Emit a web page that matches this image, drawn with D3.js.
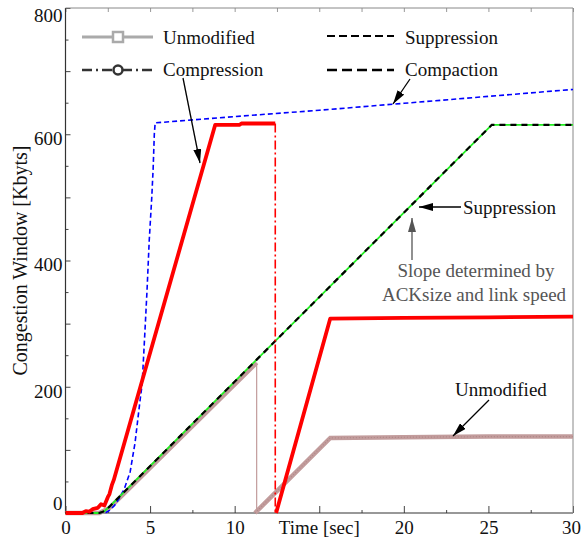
<!DOCTYPE html>
<html><head><meta charset="utf-8">
<script src="https://cdn.jsdelivr.net/npm/d3@7"></script>
<style>
body{margin:0;background:#fff;}
text{font-family:"Liberation Serif","Times New Roman",serif;}
</style></head>
<body><svg id="c" width="581" height="539"></svg>
<script>
// ---------- data ----------
const xMajorTicks = [0, 5, 10, 15, 20, 25, 30];
const xTickLabels = ["0", "5", "10", "", "20", "25", "30"];
const xMinorTicks = [2.5, 7.5, 12.5, 17.5, 22.5, 27.5];
const yMajorTicks = [0, 100, 200, 300, 400, 500, 600, 700, 800];
const yMinorTicks = [50, 150, 250, 350, 450, 550, 650, 750];
const yTickLabels = ["0", "", "200", "", "400", "", "600", "", "800"];

// blue dashed series
const blueT = [0, 1.5, 2.4, 2.6, 2.9, 3.22, 3.5, 3.82, 4.11, 4.29, 4.41, 4.53, 4.7, 4.82, 4.95, 5.1, 5.18, 5.25, 5.3, 10, 15, 20, 25, 30];
const blueV = [0, 0, 1, 4, 12, 25, 40, 65, 111, 152, 179, 204, 290, 353, 432, 500, 545, 600, 618, 628, 638, 649, 660, 671];

// green + black dashed series (Suppression / Compaction)
const lineT = [0, 2.0, 2.3, 2.6, 25.2, 30];
const lineV = [0, 0, 3, 10, 615, 615];

// pink (Unmodified) series: first ramp, drop, second ramp
const unmod1T = [0, 2.0, 2.6, 11.3];
const unmod1V = [0, 0, 8, 238];
const unmodDropT = [11.3, 11.3];
const unmodDropV = [238, 0];
const unmod2T = [11.2, 15.65, 20, 25, 30];
const unmod2V = [0, 119, 120, 121, 121];

// red (Compression) series: ramp + flat, drop, second ramp
const red1T = [0, 1.0, 1.2, 1.4, 1.6, 1.9, 2.1, 2.3, 2.5, 2.6, 2.75, 2.85, 8.85, 10.3, 10.4, 12.4];
const red1V = [0, 0, 3, 2, 6, 8, 14, 12, 25, 30, 45, 52, 615, 615, 617, 617];
const redDropT = [12.4, 12.4];
const redDropV = [617, 0];
const red2T = [12.45, 15.65, 20, 25, 30];
const red2V = [0, 308, 309, 310, 311];

// legend
const legendNames = ["Unmodified", "Compression", "Suppression", "Compaction"];

// ---------- chart ----------
const svg = d3.select("#c");
const L = 65.5, R = 573, T = 8, B = 513;
const x = d3.scaleLinear().domain([0, 30]).range([L, R]);
const y = d3.scaleLinear().domain([0, 800]).range([B, T]);
const FS = 19;
const zip = (ts, vs) => ts.map((t, i) => [t, vs[i]]);
const line = d3.line().x(d => x(d[0])).y(d => y(d[1]));

// axes
const styleAxis = g => { g.select(".domain").remove(); g.selectAll("line").attr("stroke", "#444"); g.selectAll("text").attr("font-family", '"Liberation Serif","Times New Roman",serif').attr("font-size", FS).attr("fill", "#111"); };

const xb = svg.append("g").attr("transform", `translate(0,${B})`)
  .call(d3.axisBottom(x).tickValues(xMajorTicks).tickSize(-7).tickPadding(8).tickFormat((d, i) => xTickLabels[i]));
styleAxis(xb);
xb.selectAll(".tick").filter(d => d === 30).select("text").attr("text-anchor", "end").attr("x", 7.5);
const xbm = svg.append("g").attr("transform", `translate(0,${B})`)
  .call(d3.axisBottom(x).tickValues(xMinorTicks).tickSize(-3).tickFormat(""));
styleAxis(xbm);
const xt = svg.append("g").attr("transform", `translate(0,${T})`)
  .call(d3.axisTop(x).tickValues(xMajorTicks.concat(xMinorTicks)).tickSize(-4).tickFormat(""));
styleAxis(xt); xt.selectAll("line").attr("stroke", "#999");

const yl = svg.append("g").attr("transform", `translate(${L},0)`)
  .call(d3.axisLeft(y).tickValues(yMajorTicks).tickSize(-5).tickPadding(3).tickFormat((d, i) => yTickLabels[i]));
styleAxis(yl);
yl.selectAll("text").attr("dy", "0.55em");
yl.selectAll(".tick").filter(d => d === 800).select("text").attr("dy", "0.72em");
yl.selectAll(".tick").filter(d => d === 0).select("text").attr("dy", "-0.2em");
const ylm = svg.append("g").attr("transform", `translate(${L},0)`)
  .call(d3.axisLeft(y).tickValues(yMinorTicks).tickSize(-3).tickFormat(""));
styleAxis(ylm);

// frame
svg.append("line").attr("x1", L).attr("x2", L).attr("y1", T).attr("y2", B).attr("stroke", "#333").attr("stroke-width", 1.2);
svg.append("line").attr("x1", L).attr("x2", R).attr("y1", B).attr("y2", B).attr("stroke", "#333").attr("stroke-width", 1.2);
svg.append("line").attr("x1", L).attr("x2", R).attr("y1", T).attr("y2", T).attr("stroke", "#888").attr("stroke-width", 1);
svg.append("line").attr("x1", R).attr("x2", R).attr("y1", T).attr("y2", B).attr("stroke", "#888").attr("stroke-width", 1);

// axis titles
svg.append("text").attr("x", x(15)).attr("y", 534).attr("text-anchor", "middle").attr("font-size", FS).attr("fill", "#111").text("Time [sec]");
svg.append("text").attr("transform", `translate(27,${(T + B) / 2}) rotate(-90)`).attr("text-anchor", "middle").attr("font-size", 20).attr("fill", "#111").text("Congestion Window [Kbyts]");

// series
const plot = svg.append("g");
plot.append("path").datum(zip(unmod1T, unmod1V)).attr("d", line).attr("fill", "none").attr("stroke", "#c29c9c").attr("stroke-width", 4.5);
plot.append("path").datum(zip(unmodDropT, unmodDropV)).attr("d", line).attr("fill", "none").attr("stroke", "#c29c9c").attr("stroke-width", 1.2);
plot.append("path").datum(zip(unmod2T, unmod2V)).attr("d", line).attr("fill", "none").attr("stroke", "#c29c9c").attr("stroke-width", 4.5);
plot.append("path").datum(zip(unmod2T, unmod2V)).attr("d", line).attr("fill", "none").attr("stroke", "#b08888").attr("stroke-width", 1.2).attr("stroke-dasharray", "1,2");

plot.append("path").datum(zip(blueT, blueV)).attr("d", line).attr("fill", "none").attr("stroke", "#0000ff").attr("stroke-width", 1.6).attr("stroke-dasharray", "5,3");

plot.append("path").datum(zip(lineT, lineV)).attr("d", line).attr("fill", "none").attr("stroke", "#22ee22").attr("stroke-width", 1.8);
plot.append("path").datum(zip(lineT, lineV)).attr("d", line).attr("fill", "none").attr("stroke", "#000").attr("stroke-width", 2.2).attr("stroke-dasharray", "6,5");

plot.append("path").datum(zip(red1T, red1V)).attr("d", line).attr("fill", "none").attr("stroke", "#ff0000").attr("stroke-width", 3.8).attr("stroke-linejoin", "round");
plot.append("path").datum(zip(redDropT, redDropV)).attr("d", line).attr("fill", "none").attr("stroke", "#ff0000").attr("stroke-width", 1.6).attr("stroke-dasharray", "9,3,2,3");
plot.append("path").datum(zip(red2T, red2V)).attr("d", line).attr("fill", "none").attr("stroke", "#ff0000").attr("stroke-width", 3.8).attr("stroke-linejoin", "round");

// legend
const lg = svg.append("g");
lg.append("line").attr("x1", 82).attr("x2", 153).attr("y1", 37).attr("y2", 37).attr("stroke", "#aaa").attr("stroke-width", 3);
lg.append("rect").attr("x", 113).attr("y", 32).attr("width", 10).attr("height", 10).attr("fill", "#fff").attr("stroke", "#aaa").attr("stroke-width", 2.5);
lg.append("line").attr("x1", 82).attr("x2", 153).attr("y1", 70).attr("y2", 70).attr("stroke", "#333").attr("stroke-width", 2.5).attr("stroke-dasharray", "10,4,2,4");
lg.append("circle").attr("cx", 118).attr("cy", 70).attr("r", 4.5).attr("fill", "#fff").attr("stroke", "#333").attr("stroke-width", 2.5);
lg.append("line").attr("x1", 327).attr("x2", 394).attr("y1", 36).attr("y2", 36).attr("stroke", "#000").attr("stroke-width", 2).attr("stroke-dasharray", "8,4");
lg.append("line").attr("x1", 327).attr("x2", 394).attr("y1", 70).attr("y2", 70).attr("stroke", "#000").attr("stroke-width", 2.5).attr("stroke-dasharray", "10,5");
const legPos = [[163, 44], [163, 76], [405, 44], [405, 76]];
legendNames.forEach((n, i) => lg.append("text").attr("x", legPos[i][0]).attr("y", legPos[i][1]).attr("font-size", FS).attr("fill", "#111").text(n));

// annotations
const defs = svg.append("defs");
function mk(id, col) {
  defs.append("marker").attr("id", id).attr("viewBox", "0 0 14 8").attr("refX", 14).attr("refY", 4)
    .attr("markerWidth", 14).attr("markerHeight", 8).attr("markerUnits", "userSpaceOnUse").attr("orient", "auto")
    .append("path").attr("d", "M0,0 L14,4 L0,8 Z").attr("fill", col);
}
mk("ab", "#000"); mk("ag", "#555");
function arrow(x1, y1, x2, y2, col, id) {
  svg.append("line").attr("x1", x1).attr("y1", y1).attr("x2", x2).attr("y2", y2).attr("stroke", col).attr("stroke-width", 1.3).attr("marker-end", `url(#${id})`);
}
arrow(183, 78, 200, 163, "#000", "ab");
arrow(410, 79, 393, 104, "#000", "ab");
arrow(461, 207, 419, 207, "#000", "ab");
arrow(412, 260, 412, 218, "#555", "ag");
arrow(489, 400, 453, 436, "#000", "ab");

svg.append("text").attr("x", 463).attr("y", 214).attr("font-size", FS).attr("fill", "#111").text("Suppression");
svg.append("text").attr("x", 476).attr("y", 277).attr("text-anchor", "middle").attr("font-size", FS).attr("fill", "#555").text("Slope determined by");
svg.append("text").attr("x", 474).attr("y", 301).attr("text-anchor", "middle").attr("font-size", FS).attr("fill", "#555").text("ACKsize and link speed");
svg.append("text").attr("x", 455).attr("y", 396).attr("font-size", FS).attr("fill", "#111").text("Unmodified");
</script></body></html>
